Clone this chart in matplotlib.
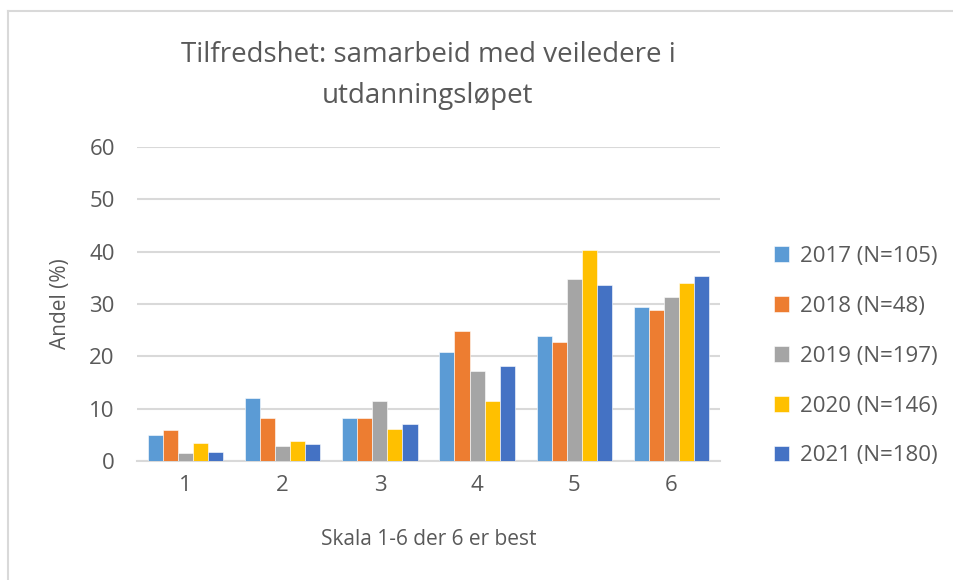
import numpy as np
import matplotlib.pyplot as plt
from matplotlib.lines import Line2D

plt.rcParams['font.family'] = ['Open Sans', 'DejaVu Sans']

# data
categories = ['1', '2', '3', '4', '5', '6']
series = ['2017 (N=105)', '2018 (N=48)', '2019 (N=197)', '2020 (N=146)', '2021 (N=180)']
v2017 = [4.9, 12.0, 8.3, 20.8, 23.8, 29.4]
v2018 = [5.9, 8.3, 8.3, 24.8, 22.8, 28.9]
v2019 = [1.5, 2.9, 11.5, 17.1, 34.8, 31.4]
v2020 = [3.4, 3.9, 6.1, 11.5, 40.3, 34.1]
v2021 = [1.7, 3.2, 7.0, 18.1, 33.6, 35.3]
values = [v2017, v2018, v2019, v2020, v2021]
colors = ['#5B9BD5', '#ED7D31', '#A5A5A5', '#FFC000', '#4472C4']
text_col = '#595959'

fig = plt.figure(figsize=(9.54, 5.8), dpi=100)
ax = fig.add_axes([0.1436, 0.2052, 0.6111, 0.5414])

x = np.arange(1, len(categories) + 1)
w = 0.155
for i, (vals, name) in enumerate(zip(values, series)):
    ax.bar(x + (i - 2) * w, vals, w, color=colors[i], label=name,
           edgecolor='white', linewidth=0.4, zorder=3)

ax.set_xlim(0.5, 6.5)
ax.set_ylim(0, 60)
ax.set_yticks(range(0, 61, 10))
ax.set_xticks(x)
ax.set_xticklabels(categories)
ax.yaxis.grid(True, color='#D9D9D9', linewidth=1.5, zorder=0)
for s in ['top', 'right', 'left']:
    ax.spines[s].set_visible(False)
ax.spines['bottom'].set_color('#D9D9D9')
ax.spines['bottom'].set_linewidth(1.5)
ax.tick_params(axis='both', length=0, labelsize=16, labelcolor=text_col)
ax.tick_params(axis='y', pad=16)
ax.tick_params(axis='x', pad=10)

ax.set_ylabel('Andel (%)', fontsize=15, color=text_col, labelpad=13)
ax.set_xlabel('Skala 1-6 der 6 er best', fontsize=15, color=text_col, labelpad=24)

fig.text(0.4486, 0.870, 'Tilfredshet: samarbeid med veiledere i\nutdanningsløpet',
         ha='center', va='center', fontsize=20, color=text_col, linespacing=1.6)

fig.legend(loc='center left', bbox_to_anchor=(0.79, 0.386), frameon=False,
           fontsize=16, labelcolor=text_col, handlelength=0.7, handleheight=0.7,
           handletextpad=0.5, labelspacing=1.3)

# chart frame
fig.add_artist(Line2D([0.0084, 0.0084], [0, 0.981], color='#D9D9D9', linewidth=1.5))
fig.add_artist(Line2D([0.0084, 1], [0.981, 0.981], color='#D9D9D9', linewidth=1.5))

fig.savefig('out.png', dpi=100)
